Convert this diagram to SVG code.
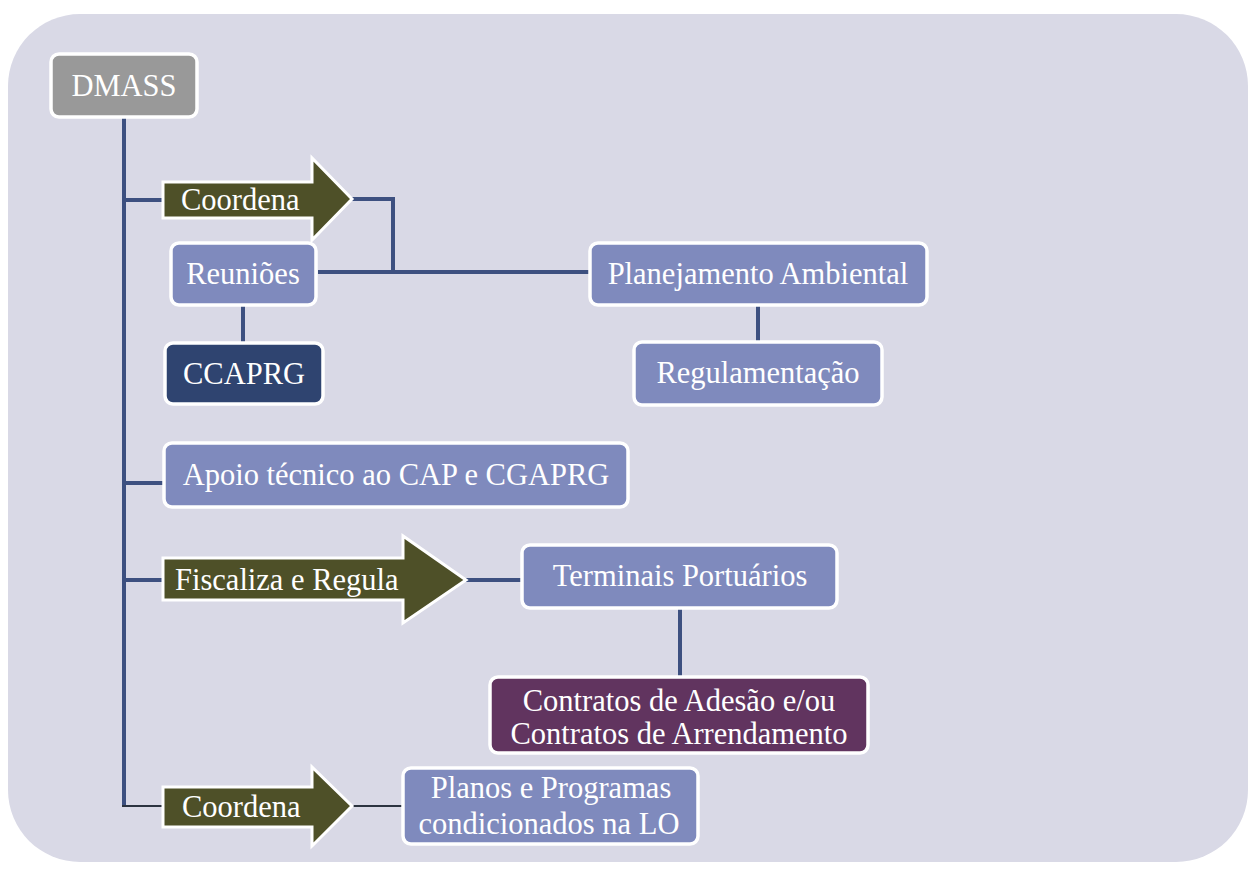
<svg xmlns="http://www.w3.org/2000/svg" width="1248" height="872" viewBox="0 0 1248 872">
  <defs>
    <style>
      .bg { fill: #d9d9e6; }
      .box { fill: #7f8abd; stroke: #ffffff; stroke-width: 3.5; }
      .root { fill: #999999; stroke: #ffffff; stroke-width: 3.5; }
      .navy { fill: #2f4470; stroke: #ffffff; stroke-width: 3.5; }
      .plum { fill: #61345f; stroke: #ffffff; stroke-width: 3.5; }
      .arrow { fill: #4e5028; stroke: #ffffff; stroke-width: 3; stroke-linejoin: miter; }
      .link { fill: none; stroke: #3d5080; stroke-width: 4; }
      .thin { fill: none; stroke: #2c3340; stroke-width: 2; }
      .lbl { font-size: 30.5px; fill: #ffffff; }
      .c { text-anchor: middle; }
    </style>
  </defs>

  <!-- panel -->
  <rect class="bg" x="8" y="14" width="1240" height="848" rx="72" ry="72"/>

  <!-- connectors -->
  <g id="connectors">
    <path class="link" d="M124 117 V806"/>
    <path class="link" d="M122 200 H165"/>
    <path class="link" d="M122 483 H165"/>
    <path class="link" d="M122 580 H165"/>
    <path class="thin" d="M122 806 H165"/>
    <path class="link" d="M352 199 H393 V272"/>
    <path class="link" d="M318 272 H590"/>
    <path class="link" d="M243 305 V343"/>
    <path class="link" d="M758 305 V342"/>
    <path class="link" d="M466 580 H522"/>
    <path class="link" d="M680 608 V677"/>
    <path class="thin" d="M352 806 H403"/>
  </g>

  <g font-family="'Liberation Serif', 'Times New Roman', 'DejaVu Serif', serif">
    <g id="dmass">
      <rect class="root" x="51" y="54" width="146" height="63" rx="8"/>
      <text class="lbl c" x="124" y="96">DMASS</text>
    </g>

    <g id="coordena-1">
      <path class="arrow" d="M163 182 H312 V158 L352 199 L312 240 V218 H163 Z"/>
      <text class="lbl" x="181" y="210">Coordena</text>
    </g>

    <g id="reunioes">
      <rect class="box" x="171" y="243" width="145" height="62" rx="8"/>
      <text class="lbl c" x="243" y="284">Reuniões</text>
    </g>

    <g id="ccaprg">
      <rect class="navy" x="165" y="343" width="158" height="61" rx="8"/>
      <text class="lbl c" x="244" y="384">CCAPRG</text>
    </g>

    <g id="planejamento">
      <rect class="box" x="590" y="243" width="337" height="62" rx="8"/>
      <text class="lbl c" x="758" y="284">Planejamento Ambiental</text>
    </g>

    <g id="regulamentacao">
      <rect class="box" x="634" y="342" width="248" height="63" rx="8"/>
      <text class="lbl c" x="758" y="383">Regulamentação</text>
    </g>

    <g id="apoio">
      <rect class="box" x="164" y="443" width="464" height="64" rx="8"/>
      <text class="lbl c" x="396" y="485">Apoio técnico ao CAP e CGAPRG</text>
    </g>

    <g id="fiscaliza">
      <path class="arrow" d="M163 558 H403 V536 L466 580 L403 623 V600 H163 Z"/>
      <text class="lbl" x="175" y="590">Fiscaliza e Regula</text>
    </g>

    <g id="terminais">
      <rect class="box" x="522" y="545" width="315" height="63" rx="8"/>
      <text class="lbl c" x="680" y="586">Terminais Portuários</text>
    </g>

    <g id="contratos">
      <rect class="plum" x="490" y="677" width="378" height="76" rx="8"/>
      <text class="lbl c" x="679" y="711">Contratos de Adesão e/ou</text>
      <text class="lbl c" x="679" y="744">Contratos de Arrendamento</text>
    </g>

    <g id="coordena-2">
      <path class="arrow" d="M163 787 H312 V767 L352 806 L312 846 V827 H163 Z"/>
      <text class="lbl" x="182" y="817">Coordena</text>
    </g>

    <g id="planos">
      <rect class="box" x="403" y="768" width="295" height="76" rx="8"/>
      <text class="lbl c" x="551" y="798">Planos e Programas</text>
      <text class="lbl c" x="549" y="834">condicionados na LO</text>
    </g>
  </g>
</svg>
